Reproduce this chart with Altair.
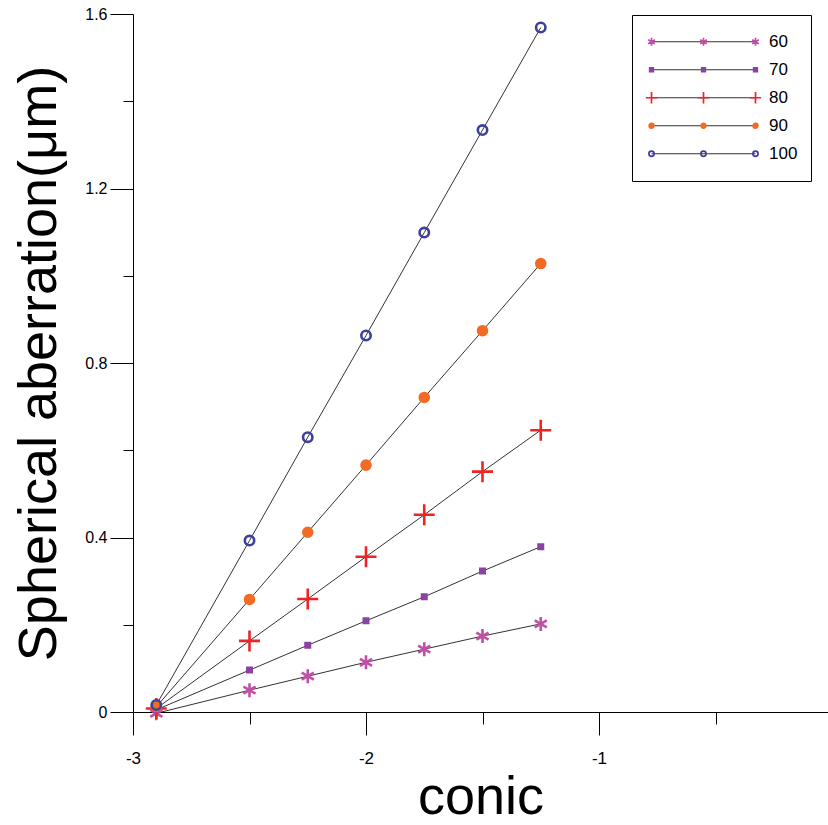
import altair as alt
import pandas as pd

# ---------------- data ----------------
conic = [-2.9, -2.5, -2.25, -2.0, -1.75, -1.5, -1.25]
sa_60 = [-0.003, 0.050, 0.082, 0.114, 0.144, 0.174, 0.202]
sa_70 = [0.005, 0.096, 0.153, 0.209, 0.264, 0.323, 0.379]
sa_80 = [0.008, 0.163, 0.259, 0.356, 0.452, 0.551, 0.646]
sa_90 = [0.012, 0.258, 0.412, 0.566, 0.721, 0.874, 1.028]
sa_100 = [0.016, 0.393, 0.630, 0.863, 1.099, 1.334, 1.569]
series_names = ["60", "70", "80", "90", "100"]

x_major = [-3, -2, -1]
x_minor = [-2.5, -1.5, -0.5]
y_major = [0, 0.4, 0.8, 1.2, 1.6]
y_minor = [0.2, 0.6, 1.0, 1.4]

# ---------------- styles ----------------
stroke_colors = ["#c24fa6", "#8a42a3", "#ee2326", "#f26b24", "#3d3f9c"]
fill_colors = ["transparent", "#8a42a3", "transparent", "#f26b24", "transparent"]


def _f(v):
    return f"{round(v, 4)}"


def star(cx, r):
    a, b = 0.866 * r, 0.5 * r
    return (f"M{_f(cx)},{_f(-r)}L{_f(cx)},{_f(r)}"
            f"M{_f(cx - a)},{_f(-b)}L{_f(cx + a)},{_f(b)}"
            f"M{_f(cx - a)},{_f(b)}L{_f(cx + a)},{_f(-b)}")


def square(cx, h):
    return f"M{_f(cx - h)},{_f(-h)}H{_f(cx + h)}V{_f(h)}H{_f(cx - h)}Z"


def plus(cx, r):
    return f"M{_f(cx - r)},0H{_f(cx + r)}M{_f(cx)},{_f(-r)}V{_f(r)}"


def circle(cx, r):
    return (f"M{_f(cx - r)},0A{_f(r)},{_f(r)},0,1,1,{_f(cx + r)},0"
            f"A{_f(r)},{_f(r)},0,1,1,{_f(cx - r)},0Z")


# plot markers (size 400 -> 1 unit = 10 px)
marker_shapes = [star(0, 0.7), square(0, 0.22), plus(0, 1.05),
                 circle(0, 0.45), circle(0, 0.47)]


# legend markers (size 10816 -> 1 unit = 52 px), three per entry
def triple(fn, r):
    return "".join(fn(dx, r) for dx in (-1, 0, 1))


legend_shapes = [triple(star, 0.075), triple(square, 0.035), triple(plus, 0.11),
                 triple(circle, 0.045), triple(circle, 0.05)]

series_values = [sa_60, sa_70, sa_80, sa_90, sa_100]
rows = []
for name, vals in zip(series_names, series_values):
    for cx, v in zip(conic, vals):
        rows.append({"conic": cx, "sa": v, "series": name})
df = pd.DataFrame(rows)
legend_df = pd.DataFrame({"series": series_names})

FONT = "Liberation Sans"
X_DOMAIN = [-3, -0.0172]
Y_DOMAIN = [0, 1.6]

x_scale = alt.Scale(domain=X_DOMAIN, nice=False, zero=False)
y_scale = alt.Scale(domain=Y_DOMAIN, nice=False, zero=False)

LEG_X = 499
LEG_Y = 1
LEG_COMMON = dict(orient="none", legendX=LEG_X, legendY=LEG_Y, title=None,
                  symbolSize=10816, clipHeight=27.5, padding=13, rowPadding=0,
                  labelFontSize=17, labelOffset=13, labelFont=FONT,
                  labelColor="black")

# ---------------- layers ----------------
lines = alt.Chart(df).mark_line(strokeWidth=1).encode(
    x=alt.X("conic:Q", scale=x_scale,
            axis=alt.Axis(values=x_major, tickSize=23, labelFontSize=17,
                          labelPadding=15, labelExpr="datum.value + ''",
                          labelFlush=False,
                          title="conic", titleFontSize=54,
                          titleFontWeight="normal", titleBaseline="alphabetic",
                          titleY=101, titleX=347.5, grid=False, orient="bottom")),
    y=alt.Y("sa:Q", scale=y_scale,
            axis=alt.Axis(values=y_major, tickSize=23, labelFontSize=16,
                          labelPadding=3, labelExpr="datum.value + ''",
                          labelFlush=False,
                          title="Spherical aberration(μm)", titleFontSize=54,
                          titleFontWeight="normal", titleBaseline="alphabetic",
                          titleX=-78, titleY=349, titleAngle=270,
                          grid=False, orient="left")),
    stroke=alt.Stroke("series:N",
                      scale=alt.Scale(domain=series_names,
                                      range=["#333333"] * 5),
                      legend=alt.Legend(symbolType="stroke",
                                        symbolStrokeWidth=1,
                                        symbolOffset=6,
                                        strokeColor="black",
                                        **LEG_COMMON)),
)

points = alt.Chart(df).mark_point(size=400, strokeWidth=2.6, opacity=1,
                                  filled=False).encode(
    x=alt.X("conic:Q", scale=x_scale,
            axis=alt.Axis(values=x_minor, tickSize=12, labels=False,
                          domain=False, title=None, grid=False,
                          orient="bottom")),
    y=alt.Y("sa:Q", scale=y_scale,
            axis=alt.Axis(values=y_minor, tickSize=10, labels=False,
                          domain=False, title=None, grid=False,
                          orient="left")),
    shape=alt.Shape("series:N",
                    scale=alt.Scale(domain=series_names, range=marker_shapes),
                    legend=None),
    stroke=alt.Stroke("series:N",
                      scale=alt.Scale(domain=series_names, range=stroke_colors),
                      legend=None),
    fill=alt.Fill("series:N",
                  scale=alt.Scale(domain=series_names, range=fill_colors),
                  legend=None),
)

MARKER_LEG = dict(symbolStrokeWidth=1.7, symbolOffset=5.5, labelOpacity=0,
                  symbolOpacity=1, **LEG_COMMON)

legend_markers = alt.Chart(legend_df).transform_filter("false").mark_point(
    filled=False, opacity=1).encode(
    shape=alt.Shape("series:N",
                    scale=alt.Scale(domain=series_names, range=legend_shapes),
                    legend=alt.Legend(**MARKER_LEG)),
    stroke=alt.Stroke("series:N",
                      scale=alt.Scale(domain=series_names, range=stroke_colors),
                      legend=alt.Legend(**MARKER_LEG)),
    fill=alt.Fill("series:N",
                  scale=alt.Scale(domain=series_names, range=fill_colors),
                  legend=alt.Legend(**MARKER_LEG)),
)

chart = alt.layer(lines, points, legend_markers).resolve_scale(
    shape="independent", stroke="independent", fill="independent"
).resolve_axis(
    x="independent", y="independent"
).properties(
    width=695, height=698,
    autosize=alt.AutoSizeParams(type="none"),
    padding={"left": 133, "top": 14, "right": 0, "bottom": 113},
).configure(
    font=FONT, background="white"
).configure_view(
    stroke="transparent"
).configure_axis(
    domainColor="black", tickColor="black", labelColor="black",
    titleColor="black", domainWidth=1, tickWidth=1, labelFont=FONT,
    titleFont=FONT
)

chart.save("out.html", embed_options={"renderer": "svg", "actions": False})
